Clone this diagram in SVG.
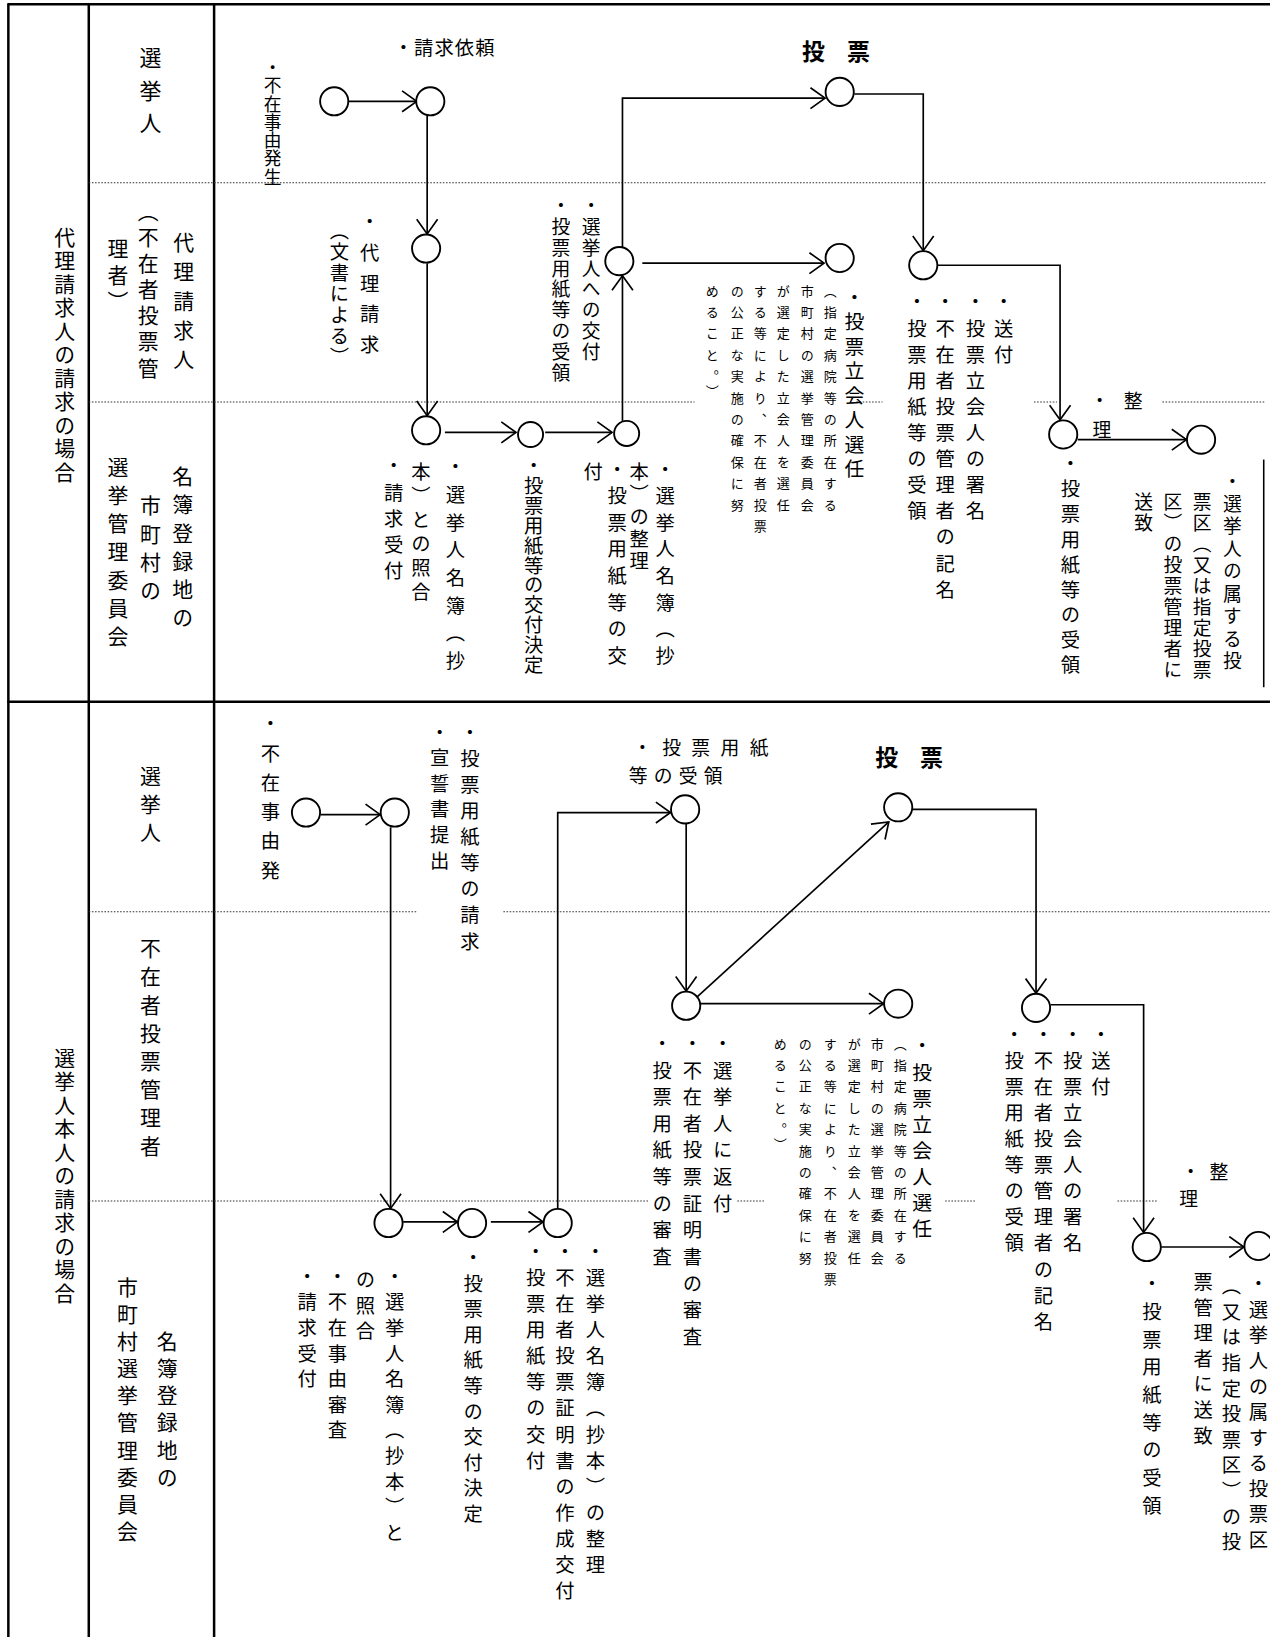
<svg xmlns="http://www.w3.org/2000/svg" width="1270" height="1637" viewBox="0 0 1270 1637">
<style>
text { font-family: "Noto Sans CJK JP", "Noto Sans CJK SC", sans-serif; fill: #000; }
.v { writing-mode: vertical-rl; }
.f { font-size: 18.5px; }
.s { font-size: 12.5px; }
.l { font-size: 20px; }
.b { font-size: 22px; font-weight: bold; }
.frame { stroke: #000; stroke-width: 2.4; fill: none; }
.thin { stroke: #000; stroke-width: 1.5; fill: none; }
.dot { stroke: #333; stroke-width: 1; stroke-dasharray: 1.5 1.5; fill: none; }
.node circle { fill: #fff; stroke: #000; stroke-width: 1.8; }
.conn path { stroke: #000; stroke-width: 1.6; fill: none; marker-end: url(#arr); }
</style>
<defs>
<marker id="arr" viewBox="0 0 16 22" refX="15" refY="11" markerWidth="16" markerHeight="22" orient="auto" markerUnits="userSpaceOnUse">
<path d="M1,1 L15,11 L1,21" fill="none" stroke="#000" stroke-width="1.6"/>
</marker>
</defs>
<rect width="1270" height="1637" fill="#fff"/>
<g transform="scale(1.0444)">
<g id="frame">
<line class="frame" x1="8" y1="4" x2="8" y2="1570"/>
<line class="frame" x1="85" y1="4" x2="85" y2="1570"/>
<line class="frame" x1="205" y1="4" x2="205" y2="1570"/>
<line class="frame" x1="7" y1="4" x2="1217" y2="4"/>
<line class="frame" x1="7" y1="672" x2="1217" y2="672"/>
<line class="thin" x1="1210" y1="440" x2="1210" y2="658"/>
<path class="dot" d="M85,175 H1212 M85,385 H665 M820,385 H845 M990,385 H1012 M1113,385 H1212 M85,873 H400 M482,873 H1217 M85,1150 H622 M706,1150 H732 M905,1150 H935 M1070,1150 H1108"/>
</g>
<g id="lanes">
<text class="l v" x="62" y="217" letter-spacing="2.5">代理請求人の請求の場合</text>
<text class="l v" x="144" y="45" style="font-size:21px" letter-spacing="10">選挙人</text>
<text class="l v" x="176" y="222" letter-spacing="8">代理請求人</text>
<text class="l v" x="142" y="192" letter-spacing="5">（不在者投票管</text>
<text class="l v" x="113" y="228" letter-spacing="5">理者）</text>
<text class="l v" x="175" y="446" letter-spacing="7">名簿登録地の</text>
<text class="l v" x="144" y="474" letter-spacing="7">市町村の</text>
<text class="l v" x="113" y="437" letter-spacing="7">選挙管理委員会</text>
<text class="l v" x="62" y="1003" letter-spacing="2.5">選挙人本人の請求の場合</text>
<text class="l v" x="144" y="733" letter-spacing="7">選挙人</text>
<text class="l v" x="144" y="898" letter-spacing="7">不在者投票管理者</text>
<text class="l v" x="122" y="1222" letter-spacing="6">市町村選挙管理委員会</text>
<text class="l v" x="160" y="1274" letter-spacing="6">名簿登録地の</text>
</g>
<g id="connectors" class="conn">
<path d="M334,97 L399,97"/>
<path d="M409,111 L409,224"/>
<path d="M409,252 L409,398"/>
<path d="M426,414 L494,414"/>
<path d="M522,414 L586,414"/>
<path d="M596,403 L596,264"/>
<path d="M596,238 L596,94 L790,94"/>
<path d="M615,252 L789,252"/>
<path d="M818,90 L884,90 L884,240"/>
<path d="M898,254 L1015,254 L1015,402"/>
<path d="M1032,421 L1136,421"/>
<path d="M307,780 L364,780"/>
<path d="M374,792 L374,1157"/>
<path d="M386,1170 L438,1170"/>
<path d="M470,1170 L520,1170"/>
<path d="M534,1157 L534,778 L642,778"/>
<path d="M657,789 L657,949"/>
<path d="M667,955 L851,787"/>
<path d="M671,961 L846,961"/>
<path d="M874,775 L992,775 L992,951"/>
<path d="M1006,962 L1095,962 L1095,1180"/>
<path d="M1112,1194 L1191,1194"/>
</g>
<g id="n-a1" class="node"><circle cx="320" cy="97" r="13.5"/><text class="f v" x="261" y="56" style="font-size:17px" letter-spacing="0.5">・不在事由発生</text></g>
<g id="n-a2" class="node"><circle cx="412" cy="97" r="13.5"/><text class="f" x="377" y="53" letter-spacing="1">・請求依頼</text></g>
<g id="n-b1" class="node"><circle cx="408" cy="238" r="13.5"/><text class="f v" x="354" y="203" letter-spacing="11">・代理請求</text><text class="f v" x="325" y="212" letter-spacing="1.5">（文書による）</text></g>
<g id="n-c1" class="node"><circle cx="408" cy="412" r="13.5"/><text class="f v" x="436" y="438" letter-spacing="8">・選挙人名簿（抄</text><text class="f v" x="403" y="442" letter-spacing="4.5">本）との照合</text><text class="f v" x="377" y="437" letter-spacing="6.5">・請求受付</text></g>
<g id="n-c2" class="node"><circle cx="508" cy="416" r="12"/><text class="f v" x="511" y="437" letter-spacing="0.5">・投票用紙等の交付決定</text></g>
<g id="n-c3" class="node"><circle cx="600" cy="415" r="12"/><text class="f v" x="637" y="440" letter-spacing="7">・選挙人名簿（抄</text><text class="f v" x="612" y="442" letter-spacing="3">本）の整理</text><text class="f v" x="591" y="440" letter-spacing="7">・投票用紙等の交</text><text class="f v" x="568" y="442">付</text></g>
<g id="n-b2" class="node"><circle cx="593" cy="250" r="13.5"/><text class="f v" x="566" y="188" style="font-size:18px" letter-spacing="2">・選挙人への交付</text><text class="f v" x="537" y="188" style="font-size:18px" letter-spacing="2">・投票用紙等の受領</text></g>
<g id="n-a3" class="node"><circle cx="804" cy="88" r="13.5"/><text class="b" x="768" y="57" letter-spacing="8">投 票</text></g>
<g id="n-b3" class="node"><circle cx="804" cy="247" r="13.5"/>
<text class="f v" x="818" y="275" style="font-size:19px" letter-spacing="4.5">・投票立会人選任</text>
<text class="s v" x="795" y="272" letter-spacing="8">（指定病院等の所在する</text>
<text class="s v" x="773" y="272" letter-spacing="8">市町村の選挙管理委員会</text>
<text class="s v" x="750" y="272" letter-spacing="8">が選定した立会人を選任</text>
<text class="s v" x="728" y="272" letter-spacing="8">する等により、不在者投票</text>
<text class="s v" x="706" y="272" letter-spacing="8">の公正な実施の確保に努</text>
<text class="s v" x="682" y="272" letter-spacing="8">めること。）</text>
</g>
<g id="n-d1" class="node"><circle cx="884" cy="254" r="13.5"/>
<text class="f v" x="961" y="280" letter-spacing="6.5">・送付</text>
<text class="f v" x="934" y="280" letter-spacing="6.5">・投票立会人の署名</text>
<text class="f v" x="905" y="280" letter-spacing="6.5">・不在者投票管理者の記名</text>
<text class="f v" x="878" y="280" letter-spacing="6.5">・投票用紙等の受領</text>
</g>
<g id="n-e1" class="node"><circle cx="1018" cy="416" r="13.5"/>
<text class="f v" x="1025" y="435" letter-spacing="5.5">・投票用紙等の受領</text>
<text class="f" x="1053" y="391" text-anchor="middle" style="font-size:18px">・</text>
<text class="f" x="1085" y="391" text-anchor="middle" style="font-size:18px">整</text>
<text class="f" x="1055" y="418" text-anchor="middle" style="font-size:18px">理</text>
</g>
<g id="n-e2" class="node"><circle cx="1150" cy="421" r="13.5"/>
<text class="f v" x="1180" y="452" style="font-size:18px" letter-spacing="3.5">・選挙人の属する投</text>
<text class="f v" x="1151" y="472" style="font-size:18px" letter-spacing="2">票区（又は指定投票</text>
<text class="f v" x="1123" y="472" style="font-size:18px" letter-spacing="2">区）の投票管理者に</text>
<text class="f v" x="1095" y="472" style="font-size:18px" letter-spacing="2">送致</text>
</g>
<g id="n-f1" class="node"><circle cx="293" cy="778" r="13.5"/><text class="f v" x="259" y="684" letter-spacing="9.5">・不在事由発</text></g>
<g id="n-f2" class="node"><circle cx="378" cy="778" r="13.5"/>
<text class="f v" x="450" y="692" letter-spacing="6.5">・投票用紙等の請求</text>
<text class="f v" x="421" y="692" letter-spacing="6">・宣誓書提出</text>
</g>
<g id="n-g1" class="node"><circle cx="372" cy="1171" r="13.5"/>
<text class="f v" x="378" y="1213" letter-spacing="6">・選挙人名簿（抄本）と</text>
<text class="f v" x="350" y="1216" letter-spacing="6">の照合</text>
<text class="f v" x="323" y="1213" letter-spacing="6">・不在事由審査</text>
<text class="f v" x="294" y="1213" letter-spacing="6">・請求受付</text>
</g>
<g id="n-g2" class="node"><circle cx="452" cy="1171" r="13.5"/><text class="f v" x="453" y="1195" letter-spacing="6">・投票用紙等の交付決定</text></g>
<g id="n-g3" class="node"><circle cx="534" cy="1171" r="13.5"/>
<text class="f v" x="570" y="1189" letter-spacing="6.5">・選挙人名簿（抄本）の整理</text>
<text class="f v" x="541" y="1189" letter-spacing="6.5">・不在者投票証明書の作成交付</text>
<text class="f v" x="513" y="1189" letter-spacing="6.5">・投票用紙等の交付</text>
</g>
<g id="n-h1" class="node"><circle cx="656" cy="775" r="13.5"/>
<text class="f" x="606" y="723" style="font-size:18px" letter-spacing="10">・投票用紙</text>
<text class="f" x="602" y="750" style="font-size:18px" letter-spacing="6">等の受領</text>
</g>
<g id="n-h2" class="node"><circle cx="657" cy="963" r="13.5"/>
<text class="f v" x="692" y="990" letter-spacing="7">・選挙人に返付</text>
<text class="f v" x="663" y="990" letter-spacing="7">・不在者投票証明書の審査</text>
<text class="f v" x="634" y="990" letter-spacing="7">・投票用紙等の審査</text>
</g>
<g id="n-i1" class="node"><circle cx="860" cy="773" r="13.5"/><text class="b" x="838" y="733" letter-spacing="8">投 票</text></g>
<g id="n-i2" class="node"><circle cx="860" cy="961" r="13.5"/>
<text class="f v" x="883" y="992" style="font-size:19px" letter-spacing="6">・投票立会人選任</text>
<text class="s v" x="862" y="993" letter-spacing="8">（指定病院等の所在する</text>
<text class="s v" x="840" y="993" letter-spacing="8">市町村の選挙管理委員会</text>
<text class="s v" x="818" y="993" letter-spacing="8">が選定した立会人を選任</text>
<text class="s v" x="795" y="993" letter-spacing="8">する等により、不在者投票</text>
<text class="s v" x="771" y="993" letter-spacing="8">の公正な実施の確保に努</text>
<text class="s v" x="747" y="993" letter-spacing="8">めること。）</text>
</g>
<g id="n-j1" class="node"><circle cx="992" cy="965" r="13.5"/>
<text class="f v" x="1054" y="981" letter-spacing="6.5">・送付</text>
<text class="f v" x="1027" y="981" letter-spacing="6.5">・投票立会人の署名</text>
<text class="f v" x="999" y="981" letter-spacing="6.5">・不在者投票管理者の記名</text>
<text class="f v" x="971" y="981" letter-spacing="6.5">・投票用紙等の受領</text>
</g>
<g id="n-k1" class="node"><circle cx="1098" cy="1194" r="13.5"/>
<text class="f v" x="1103" y="1220" letter-spacing="8">・投票用紙等の受領</text>
<text class="f" x="1140" y="1129" text-anchor="middle" style="font-size:18px">・</text>
<text class="f" x="1167" y="1129" text-anchor="middle" style="font-size:18px">整</text>
<text class="f" x="1138" y="1155" text-anchor="middle" style="font-size:18px">理</text>
</g>
<g id="n-k2" class="node"><circle cx="1205" cy="1193" r="13.5"/>
<text class="f v" x="1205" y="1220" letter-spacing="6">・選挙人の属する投票区</text>
<text class="f v" x="1179" y="1222" letter-spacing="6">（又は指定投票区）の投</text>
<text class="f v" x="1152" y="1218" letter-spacing="6">票管理者に送致</text>
</g>
</g>
</svg>
